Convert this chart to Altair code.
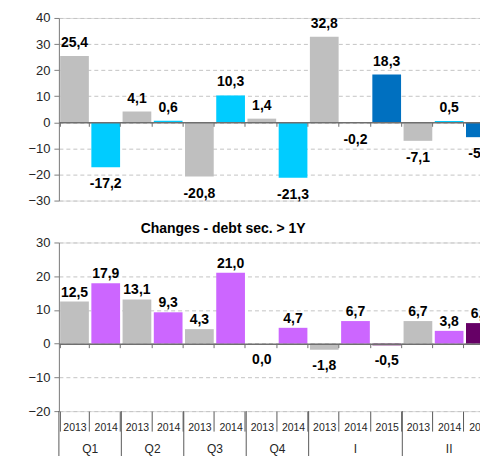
import altair as alt
import pandas as pd

# ---------------- data ----------------
groups = ["Q1", "Q1", "Q2", "Q2", "Q3", "Q3", "Q4", "Q4", "I", "I", "I", "II", "II", "II"]
years = ["2013", "2014", "2013", "2014", "2013", "2014", "2013", "2014",
         "2013", "2014", "2015", "2013", "2014", "2015"]
short_values = [25.4, -17.2, 4.1, 0.6, -20.8, 10.3, 1.4, -21.3, 32.8, -0.2, 18.3, -7.1, 0.5, -5.7]
long_values = [12.5, 17.9, 13.1, 9.3, 4.3, 21.0, 0.0, 4.7, -1.8, 6.7, -0.5, 6.7, 3.8, 6.1]
short_ticks = [-30, -20, -10, 0, 10, 20, 30, 40]
long_ticks = [-20, -10, 0, 10, 20, 30]
year_list = ["2013", "2014", "2015"]
short_colors = ["#BFBFBF", "#00CCFF", "#0070C0"]
long_colors = ["#BFBFBF", "#CC66FF", "#660066"]
title_short = "Changes - debt sec. < 1Y"
title_long = "Changes - debt sec. > 1Y"

FONT = "Liberation Sans"
cats = [f"{g}|{y}" for g, y in zip(groups, years)]
N = len(cats)
W = 438

# group boundaries / centres (in band units) derived from the group list
group_names = []
group_sizes = []
for g in groups:
    if group_names and group_names[-1] == g:
        group_sizes[-1] += 1
    else:
        group_names.append(g)
        group_sizes.append(1)
bounds = [0]
for s in group_sizes:
    bounds.append(bounds[-1] + s)
centers = [(bounds[i] + bounds[i + 1]) / 2 for i in range(len(group_names))]


def fmt(v):
    return f"{v:.1f}".replace(".", ",")


def make_layers(values, ticks, colors, H, pos_dy, neg_dy):
    df = pd.DataFrame({"cat": cats, "year": years, "value": values,
                       "label": [fmt(v) for v in values]})
    ymin, ymax = ticks[0], ticks[-1]
    zero_off = -H * (0 - ymin) / (ymax - ymin)
    xscale = alt.Scale(domain=cats, paddingInner=0.08, paddingOuter=0.04)
    yscale = alt.Scale(domain=[ymin, ymax], nice=False, zero=False)
    yaxis = alt.Axis(values=ticks, title=None, grid=True, gridDash=[4, 3], gridColor="#C4C4C4",
                     domainColor="#808080", tickColor="#808080", tickSize=5, labelPadding=4,
                     labelFontSize=13, labelFont=FONT, labelColor="#262626")
    zero_axis = alt.Axis(orient="bottom", offset=zero_off, labels=False, title=None, grid=False,
                         domain=True, domainColor="#6F6F6F", domainWidth=1.5, ticks=True,
                         tickBand="extent", tickSize=4, tickColor="#6F6F6F", zindex=1)
    x = alt.X("cat:N", scale=xscale, axis=zero_axis, sort=cats)
    y = alt.Y("value:Q", scale=yscale, axis=yaxis)
    base = alt.Chart(df)
    bars = base.mark_bar().encode(
        x=x, y=y,
        color=alt.Color("year:N", scale=alt.Scale(domain=year_list, range=colors), legend=None),
    )
    pos = base.transform_filter("datum.value > 0").mark_text(
        dy=pos_dy, baseline="alphabetic", fontSize=14, fontWeight="bold", font=FONT, color="black"
    ).encode(x=x, y=y, text="label:N")
    neg = base.transform_filter("datum.value <= 0").mark_text(
        dy=neg_dy, baseline="alphabetic", fontSize=14, fontWeight="bold", font=FONT, color="black"
    ).encode(x=x, y=y, text="label:N")
    return df, alt.layer(bars, pos, neg)


def ttl(text, offset):
    return alt.Title(text, anchor="start", dx=113, fontSize=14, fontWeight="bold", font=FONT,
                     color="black", offset=offset)


H1 = 183
H2 = 169

_, top_inner = make_layers(short_values, short_ticks, short_colors, H1, -9, 21)
top = top_inner.properties(width=W, height=H1, title=ttl(title_short, 6))

df2, bot_inner = make_layers(long_values, long_ticks, long_colors, H2, -5, 20)

year_axis = alt.Axis(orient="bottom", domain=False, grid=False, ticks=True, tickBand="extent",
                     tickSize=20, tickColor="#595959", labelExpr="split(datum.label, '|')[1]",
                     labelFontSize=10.5, labelFont=FONT, labelColor="#262626", labelPadding=-8.5,
                     labelAngle=0, title=None)
year_layer = alt.Chart(df2).mark_point(opacity=0).encode(
    x=alt.X("cat:N", scale=alt.Scale(domain=cats, paddingInner=0.08, paddingOuter=0.04),
            axis=year_axis, sort=cats)
)

qscale = alt.Scale(domain=[0, N], nice=False, zero=False)
sep_df = pd.DataFrame({"b": bounds})
q_df = pd.DataFrame({"c": centers, "g": group_names})
seps = alt.Chart(sep_df).mark_rule(color="#595959", strokeWidth=1).encode(
    x=alt.X("b:Q", scale=qscale, axis=None), y=alt.value(H2), y2=alt.value(H2 + 50)
)
qlabels = alt.Chart(q_df).mark_text(fontSize=12, font=FONT, baseline="middle", color="#262626").encode(
    x=alt.X("c:Q", scale=qscale, axis=None), y=alt.value(H2 + 38), text="g:N"
)
q_layer = alt.layer(seps, qlabels)

bottom = alt.layer(bot_inner, year_layer, q_layer).resolve_scale(x="independent").resolve_axis(
    x="independent").properties(width=W, height=H2, title=ttl(title_long, 1))

chart = alt.vconcat(top, bottom, spacing=12).resolve_scale(color="independent").properties(
    padding={"left": 19, "top": -17.5, "right": -17, "bottom": -5},
    background="white",
).configure_view(stroke=None).configure(font=FONT)

chart.save("out.html", embed_options={"renderer": "svg", "actions": False})
